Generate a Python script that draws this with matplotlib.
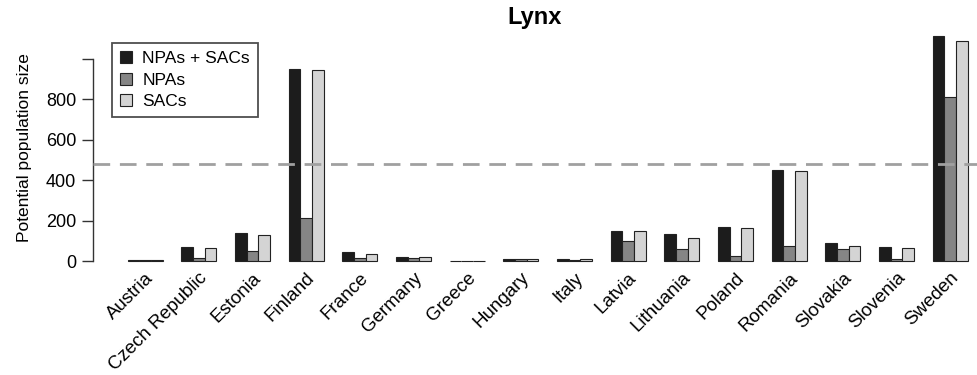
import numpy as np
import matplotlib
matplotlib.use("Agg")
import matplotlib.pyplot as plt
from matplotlib.patches import Patch

plt.rcParams['font.family'] = ['Liberation Sans', 'DejaVu Sans']

# ── Data ──────────────────────────────────────────────────────────────────────
countries = ["Austria", "Czech Republic", "Estonia", "Finland", "France",
             "Germany", "Greece", "Hungary", "Italy", "Latvia", "Lithuania",
             "Poland", "Romania", "Slovakia", "Slovenia", "Sweden"]
npas_sacs = [5, 67, 137, 950, 43, 21, 2, 12, 10, 150, 134, 166, 452, 87, 67, 1112]
npas = [3, 15, 51, 214, 13, 15, 1, 8, 5, 97, 59, 26, 76, 59, 10, 810]
sacs = [5, 62, 130, 947, 35, 18, 1, 10, 10, 147, 114, 163, 447, 76, 65, 1090]
threshold = 480

series = [("NPAs + SACs", npas_sacs, "#1c1c1c"),
          ("NPAs", npas, "#858585"),
          ("SACs", sacs, "#d4d4d4")]

yticks = [0, 200, 400, 600, 800, 1000]
ytick_labels = ["0", "200", "400", "600", "800", ""]

# ── Figure ────────────────────────────────────────────────────────────────────
fig = plt.figure(figsize=(9.77, 3.75), dpi=100)
ax = fig.add_axes([0.0952, 0.304, 0.9048, 0.603])

x = np.arange(len(countries))
w = 0.218
for i, (name, vals, col) in enumerate(series):
    ax.bar(x + (i - 1) * w, vals, width=w, color=col, edgecolor="#222222",
           linewidth=0.8, clip_on=False, zorder=2)

ax.axhline(threshold, color="#a0a0a0", lw=2, dashes=(6, 3.5), zorder=3)

ax.set_xlim(-0.97, 15.5)
ax.set_ylim(0, 1120)

for s in ["top", "right", "bottom"]:
    ax.spines[s].set_visible(False)
ax.spines["left"].set_bounds(0, 1000)
ax.spines["left"].set_linewidth(1.0)
ax.spines["left"].set_color("#333333")

ax.set_yticks(yticks)
ax.set_yticklabels(ytick_labels, fontsize=13)
ax.tick_params(axis="y", length=8, width=1.0, color="#333333", pad=4)

ax.set_xticks(x)
ax.set_xticklabels(countries, rotation=45, ha="right", rotation_mode="anchor",
                   fontsize=13.5)
ax.tick_params(axis="x", length=0, pad=6)

ax.set_ylabel("Potential population size", fontsize=12.5, labelpad=10)
ax.set_title("Lynx", fontsize=17, fontweight="bold", pad=8)

handles = [Patch(facecolor=col, edgecolor="#222222", linewidth=0.8, label=name)
           for name, _, col in series]
leg = ax.legend(handles=handles, loc="upper left", bbox_to_anchor=(0.0215, 0.964),
                fontsize=12.5, frameon=True, fancybox=False, handlelength=0.7,
                handleheight=0.7, handletextpad=0.6, borderpad=0.45,
                labelspacing=0.38, borderaxespad=0)
leg.get_frame().set_edgecolor("#222222")
leg.get_frame().set_linewidth(1.3)

fig.savefig("out.png", dpi=100)
